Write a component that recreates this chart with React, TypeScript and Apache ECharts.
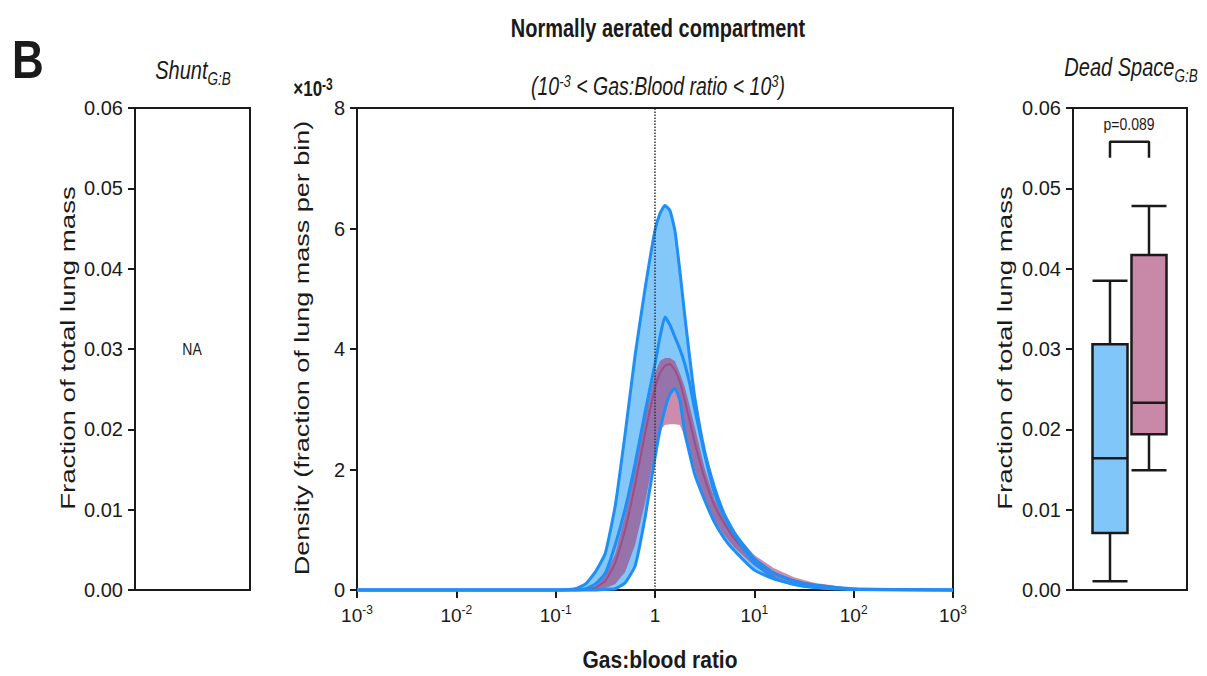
import React, { useEffect, useRef } from 'react';
import * as echarts from 'echarts';

// Gas:blood ratio bins (x, log scale)
const gasBloodRatio = [0.001, 0.1, 0.158, 0.2, 0.251, 0.316, 0.398, 0.501, 0.631, 0.794, 1.0, 1.122, 1.259, 1.413, 1.585, 1.778, 1.995, 2.239, 2.512, 3.162, 3.981, 5.012, 6.31, 10, 15.85, 25.12, 39.81, 100, 1000];
// Density (x10^-3, fraction of lung mass per bin)
const blueUpper = [0, 0, 0.02, 0.1, 0.3, 0.61, 1.4, 2.6, 3.9, 5.0, 5.97, 6.25, 6.38, 6.3, 5.97, 5.3, 4.55, 3.85, 3.2, 2.3, 1.7, 1.25, 0.95, 0.52, 0.28, 0.15, 0.08, 0.02, 0];
const blueMean = [0, 0, 0, 0.02, 0.1, 0.28, 0.75, 1.35, 2.1, 2.95, 3.75, 4.2, 4.53, 4.4, 4.2, 4.0, 3.75, 3.42, 3.0, 2.25, 1.6, 1.21, 0.92, 0.45, 0.2, 0.09, 0.04, 0.01, 0];
const blueLower = [0, 0, 0, 0, 0, 0.01, 0.02, 0.12, 0.4, 1.2, 2.2, 2.65, 3.0, 3.25, 3.35, 3.15, 2.6, 2.25, 1.92, 1.49, 1.12, 0.85, 0.65, 0.33, 0.18, 0.1, 0.05, 0.01, 0];
const pinkUpper = [0, 0, 0, 0.02, 0.06, 0.25, 0.6, 1.25, 2.05, 2.9, 3.6, 3.8, 3.85, 3.85, 3.8, 3.6, 3.37, 3.05, 2.71, 2.02, 1.5, 1.21, 0.95, 0.58, 0.36, 0.21, 0.12, 0.03, 0];
const pinkMean = [0, 0, 0, 0.01, 0.04, 0.15, 0.45, 1.0, 1.75, 2.6, 3.35, 3.6, 3.72, 3.75, 3.65, 3.45, 3.15, 2.8, 2.45, 1.85, 1.4, 1.1, 0.85, 0.5, 0.28, 0.16, 0.09, 0.02, 0];
const pinkLower = [0, 0, 0, 0, 0.01, 0.03, 0.1, 0.3, 0.75, 1.45, 2.3, 2.65, 2.74, 2.75, 2.75, 2.74, 2.55, 2.3, 2.0, 1.5, 1.15, 0.9, 0.7, 0.4, 0.22, 0.12, 0.06, 0.015, 0];

// Dead space box plot: [min, Q1, median, Q3, max]
const boxCategories = ['Group 1', 'Group 2'];
const deadSpaceBlue = [0.0011, 0.0071, 0.0164, 0.0306, 0.0385];
const deadSpacePink = [0.0149, 0.0194, 0.0233, 0.0417, 0.0478];
const bracketValues = [0.0538, 0.0558, 0.0558, 0.0538];
const pValueText = 'p=0.089';
const shuntCategories = ['Shunt'];

const TICK_FONT = "'Liberation Sans', Arial, sans-serif";
const FONT = "'Liberation Sans', Arial, sans-serif";
const INK = '#1a1a1a';
const BLUE_LINE = '#1f8ef5';
const BLUE_FILL = '#84c8fa';
const PINK_FILL = 'rgba(165,45,105,0.55)';
const PINK_LINE = '#9c4f86';

function zip(xs: number[], ys: number[]) {
  return xs.map((x, i) => [x, ys[i]]);
}

function bandSeries(name: string, upper: number[], lower: number[], fill: string) {
  return {
    type: 'custom',
    name,
    xAxisIndex: 1,
    yAxisIndex: 1,
    silent: true,
    clip: false,
    data: gasBloodRatio.map((x, i) => [x, upper[i], lower[i]]),
    encode: { x: 0, y: [1, 2] },
    renderItem: (params: any, api: any) => {
      if (params.dataIndex !== 0) return null;
      const pts: number[][] = [];
      for (let i = 0; i < gasBloodRatio.length; i++) pts.push(api.coord([gasBloodRatio[i], upper[i]]));
      for (let i = gasBloodRatio.length - 1; i >= 0; i--) pts.push(api.coord([gasBloodRatio[i], lower[i]]));
      return { type: 'polygon', shape: { points: pts }, style: { fill, stroke: 'none' } };
    },
  };
}

const subTitleRich = {
  r: { fontSize: 20, fontStyle: 'italic', fontFamily: FONT, fill: INK, lineHeight: 28 },
  sub: { fontSize: 13.5, fontStyle: 'italic', fontFamily: FONT, fill: INK, lineHeight: 14, verticalAlign: 'bottom' },
};

export default function App() {
  const ref = useRef<HTMLDivElement>(null);
  useEffect(() => {
    if (!ref.current) return;
    const chart = echarts.init(ref.current, undefined, { renderer: 'svg' });
    const axisLine = { show: true, lineStyle: { color: INK, width: 2 } };
    const yTick = { show: true, length: 7, lineStyle: { color: INK, width: 2 } };
    const fracAxis = (gridIndex: number) => ({
      gridIndex,
      type: 'value',
      min: 0,
      max: 0.06,
      interval: 0.01,
      axisLine,
      axisTick: yTick,
      splitLine: { show: false },
      axisLabel: {
        margin: 12,
        fontSize: 20,
        color: INK,
        fontFamily: TICK_FONT,
        formatter: (v: number) => v.toFixed(2),
      },
    });
    const lineBase = {
      type: 'line',
      xAxisIndex: 1,
      yAxisIndex: 1,
      symbol: 'none',
      smooth: 0.15,
      clip: false,
      silent: true,
    };

    chart.setOption({
      animation: false,
      backgroundColor: '#fff',
      grid: [
        { left: 135, top: 108, width: 115, height: 482, show: true, borderColor: INK, borderWidth: 2 },
        { left: 357, top: 108, width: 596, height: 482, show: true, borderColor: INK, borderWidth: 2 },
        { left: 1073, top: 108, width: 114, height: 482, show: true, borderColor: INK, borderWidth: 2 },
        { left: 1090.5, top: 108, width: 78, height: 482, show: false },
      ],
      xAxis: [
        { gridIndex: 0, type: 'category', data: shuntCategories, axisLine, axisTick: { show: false }, axisLabel: { show: false } },
        {
          gridIndex: 1,
          type: 'log',
          logBase: 10,
          min: 0.001,
          max: 1000,
          splitNumber: 6,
          axisLine,
          axisTick: { show: true, length: 8, lineStyle: { color: INK, width: 2 } },
          minorTick: { show: false },
          splitLine: { show: false },
          axisLabel: {
            margin: 14,
            color: INK,
            formatter: (v: number) => {
              const e = Math.round(Math.log10(v));
              return e === 0 ? '{b|1}' : `{b|10}{s|${e}}`;
            },
            rich: {
              b: { fontSize: 19, fontFamily: TICK_FONT, color: INK, lineHeight: 22 },
              s: { fontSize: 12, fontFamily: TICK_FONT, color: INK, lineHeight: 12, verticalAlign: 'top' },
            },
          },
        },
        { gridIndex: 2, type: 'category', data: boxCategories, axisLine, axisTick: { show: false }, axisLabel: { show: false } },
        { gridIndex: 3, type: 'category', data: boxCategories, show: false },
      ],
      yAxis: [
        fracAxis(0),
        {
          gridIndex: 1,
          type: 'value',
          min: 0,
          max: 8,
          interval: 2,
          axisLine,
          axisTick: yTick,
          splitLine: { show: false },
          axisLabel: { margin: 12, fontSize: 20, color: INK, fontFamily: TICK_FONT },
        },
        fracAxis(2),
        { gridIndex: 3, type: 'value', min: 0, max: 0.06, show: false },
      ],
      series: [
        bandSeries('blueBand', blueUpper, blueLower, BLUE_FILL),
        bandSeries('pinkBand', pinkUpper, pinkLower, PINK_FILL),
        { ...lineBase, name: 'pinkMean', data: zip(gasBloodRatio, pinkMean), lineStyle: { color: PINK_LINE, width: 2 } },
        { ...lineBase, name: 'blueUpperEdge', data: zip(gasBloodRatio, blueUpper), lineStyle: { color: BLUE_LINE, width: 3 } },
        { ...lineBase, name: 'blueLowerEdge', data: zip(gasBloodRatio, blueLower), lineStyle: { color: BLUE_LINE, width: 3 } },
        {
          ...lineBase,
          name: 'blueMean',
          data: zip(gasBloodRatio, blueMean),
          lineStyle: { color: BLUE_LINE, width: 3 },
          markLine: {
            silent: true,
            symbol: 'none',
            label: { show: false },
            lineStyle: { type: 'dotted', color: '#333', width: 1.5 },
            data: [{ xAxis: 1 }],
          },
        },
        {
          type: 'boxplot',
          xAxisIndex: 3,
          yAxisIndex: 3,
          boxWidth: [35, 35],
          itemStyle: { borderColor: INK, borderWidth: 2.5 },
          data: [
            { name: boxCategories[0], value: deadSpaceBlue, itemStyle: { color: '#80c6f8', borderColor: INK } },
            { name: boxCategories[1], value: deadSpacePink, itemStyle: { color: '#c888a8', borderColor: INK } },
          ],
        },
        {
          type: 'line',
          xAxisIndex: 3,
          yAxisIndex: 3,
          symbol: 'none',
          silent: true,
          lineStyle: { color: INK, width: 2.5 },
          data: [
            [boxCategories[0], bracketValues[0]],
            [boxCategories[0], bracketValues[1]],
            [boxCategories[1], bracketValues[2]],
            [boxCategories[1], bracketValues[3]],
          ],
        },
      ],
      graphic: [
        { type: 'text', x: 28, y: 60, scaleY: 1.2, style: { text: 'B', fontSize: 44, fontWeight: 'bold', fontFamily: FONT, fill: INK, align: 'center', verticalAlign: 'middle' } },
        { type: 'text', x: 658, y: 28, scaleY: 1.3, style: { text: 'Normally aerated compartment', fontSize: 20, fontWeight: 'bold', fontFamily: FONT, fill: INK, align: 'center', verticalAlign: 'middle' } },
        {
          type: 'text', x: 658, y: 87, scaleY: 1.3,
          style: {
            text: '{r|(10}{s|-3}{r| < Gas:Blood ratio < 10}{s|3}{r|)}',
            align: 'center', verticalAlign: 'middle',
            rich: {
              r: { fontSize: 19.5, fontStyle: 'italic', fontFamily: FONT, fill: INK, lineHeight: 22 },
              s: { fontSize: 13, fontStyle: 'italic', fontFamily: FONT, fill: INK, lineHeight: 10, verticalAlign: 'top' },
            },
          },
        },
        {
          type: 'text', x: 193, y: 70, scaleY: 1.3,
          style: { text: '{r|Shunt}{sub|G:B}', align: 'center', verticalAlign: 'middle', rich: subTitleRich },
        },
        {
          type: 'text', x: 1131, y: 67, scaleY: 1.3,
          style: { text: '{r|Dead Space}{sub|G:B}', align: 'center', verticalAlign: 'middle', rich: subTitleRich },
        },
        {
          type: 'text', x: 313, y: 88, scaleY: 1.3,
          style: {
            text: '{r|×10}{s|-3}', align: 'center', verticalAlign: 'middle',
            rich: {
              r: { fontSize: 17, fontWeight: 'bold', fontFamily: FONT, fill: INK, lineHeight: 18 },
              s: { fontSize: 12, fontWeight: 'bold', fontFamily: FONT, fill: INK, lineHeight: 10, verticalAlign: 'top' },
            },
          },
        },
        { type: 'text', x: 68, y: 348, rotation: Math.PI / 2, scaleX: 1.38, style: { text: 'Fraction of total lung mass', fontSize: 20, fontFamily: FONT, fill: INK, align: 'center', verticalAlign: 'middle' } },
        { type: 'text', x: 302, y: 348, rotation: Math.PI / 2, scaleX: 1.35, style: { text: 'Density (fraction of lung mass per bin)', fontSize: 20, fontFamily: FONT, fill: INK, align: 'center', verticalAlign: 'middle' } },
        { type: 'text', x: 1005, y: 348, rotation: Math.PI / 2, scaleX: 1.38, style: { text: 'Fraction of total lung mass', fontSize: 20, fontFamily: FONT, fill: INK, align: 'center', verticalAlign: 'middle' } },
        { type: 'text', x: 660, y: 660, scaleY: 1.15, style: { text: 'Gas:blood ratio', fontSize: 21, fontWeight: 'bold', fontFamily: FONT, fill: INK, align: 'center', verticalAlign: 'middle' } },
        { type: 'text', x: 192, y: 349, scaleY: 1.2, style: { text: 'NA', fontSize: 14, fontFamily: FONT, fill: INK, align: 'center', verticalAlign: 'middle' } },
        { type: 'text', x: 1129, y: 124, scaleY: 1.2, style: { text: pValueText, fontSize: 14, fontFamily: FONT, fill: INK, align: 'center', verticalAlign: 'middle' } },
      ],
    });
    return () => chart.dispose();
  }, []);
  return <div ref={ref} style={{ position: 'fixed', left: 0, top: 0, width: 1207, height: 676, background: '#fff' }} />;
}
